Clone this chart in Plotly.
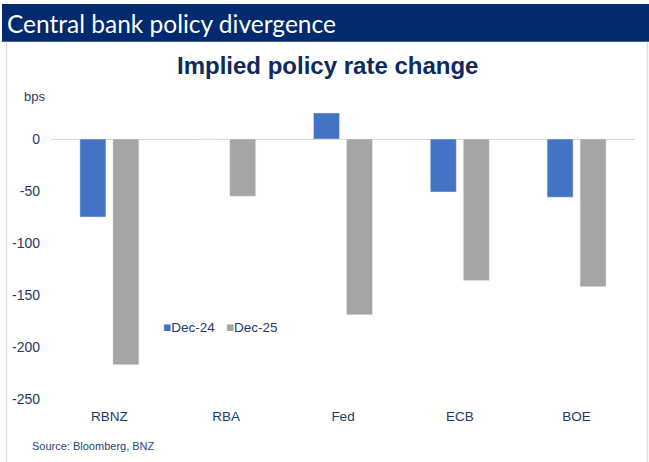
import plotly.graph_objects as go

categories = ["RBNZ", "RBA", "Fed", "ECB", "BOE"]
dec24 = [-75, 0, 25, -51, -56]
dec25 = [-217, -55, -169, -136, -142]
y_ticks = [0, -50, -100, -150, -200, -250]
series_names = ["Dec-24", "Dec-25"]
series_colors = ["#4472c4", "#a5a5a5"]

NAVY = "#1f3864"
W, H = 649, 462
ML, MR, MT, MB = 51, 14, 87, 63
PW = W - ML - MR
PH = H - MT - MB

def px_x(px):
    return (px - ML) / PW

def px_y(py):
    return (H - MB - py) / PH

fig = go.Figure()
for name, vals, col in zip(series_names, [dec24, dec25], series_colors):
    fig.add_trace(go.Bar(name=name, x=categories, y=vals, marker_color=col, showlegend=False))

fig.update_layout(
    width=W, height=H,
    margin=dict(l=ML, r=MR, t=MT, b=MB),
    paper_bgcolor="white", plot_bgcolor="white",
    barmode="group", bargap=0.435, bargroupgap=0.212,
    font=dict(family="Liberation Sans, Arial, sans-serif", size=13.5, color=NAVY),
    showlegend=False,
)
fig.update_xaxes(showgrid=False, showline=False, ticks="", ticklabelstandoff=7,
                 tickfont=dict(size=13.5, color=NAVY))
fig.update_yaxes(range=[-250, 50], tickvals=y_ticks, ticktext=[str(v) for v in y_ticks],
                 showgrid=False, zeroline=True, zerolinecolor="#d9d9d9", zerolinewidth=1,
                 showline=False, ticks="", ticklabelstandoff=10,
                 tickfont=dict(size=14, color=NAVY))

# header band and chart frame
fig.add_shape(type="rect", xref="paper", yref="paper",
              x0=px_x(2), x1=px_x(649), y0=px_y(41.7), y1=px_y(4),
              fillcolor="#012a6f", line_width=0, layer="below")
for xp in (6.5, 647.5):
    fig.add_shape(type="line", xref="paper", yref="paper",
                  x0=px_x(xp), x1=px_x(xp), y0=px_y(462), y1=px_y(42.5),
                  line=dict(color="#dedede", width=1.5))

fig.add_annotation(text="Central bank policy divergence", xref="paper", yref="paper",
                   x=px_x(5), y=px_y(23), xanchor="left", yanchor="middle", showarrow=False,
                   font=dict(family="Lato, sans-serif", size=24.5, color="white"))
fig.add_annotation(text="<b>Implied policy rate change</b>", xref="paper", yref="paper",
                   x=px_x(327), y=px_y(65), xanchor="center", yanchor="middle", showarrow=False,
                   font=dict(size=24, color="#0e2a5e"))
fig.add_annotation(text="bps", xref="paper", yref="paper",
                   x=px_x(22), y=px_y(96), xanchor="left", yanchor="middle", showarrow=False,
                   font=dict(size=13, color=NAVY))
fig.add_annotation(text="Source: Bloomberg, BNZ", xref="paper", yref="paper",
                   x=px_x(30), y=px_y(446), xanchor="left", yanchor="middle", showarrow=False,
                   font=dict(size=11, color="#2a4478"))

legend_text = "".join(
    f"<span style='color:{c}'>■</span>{n}" + ("   " if i == 0 else "")
    for i, (n, c) in enumerate(zip(series_names, series_colors))
)
fig.add_annotation(text=legend_text, xref="paper", yref="paper",
                   x=px_x(161), y=px_y(327), xanchor="left", yanchor="middle", showarrow=False,
                   font=dict(size=13.5, color=NAVY))

fig.write_html("out.html", config={"displayModeBar": False},
               post_script="document.body.style.margin='0';")
